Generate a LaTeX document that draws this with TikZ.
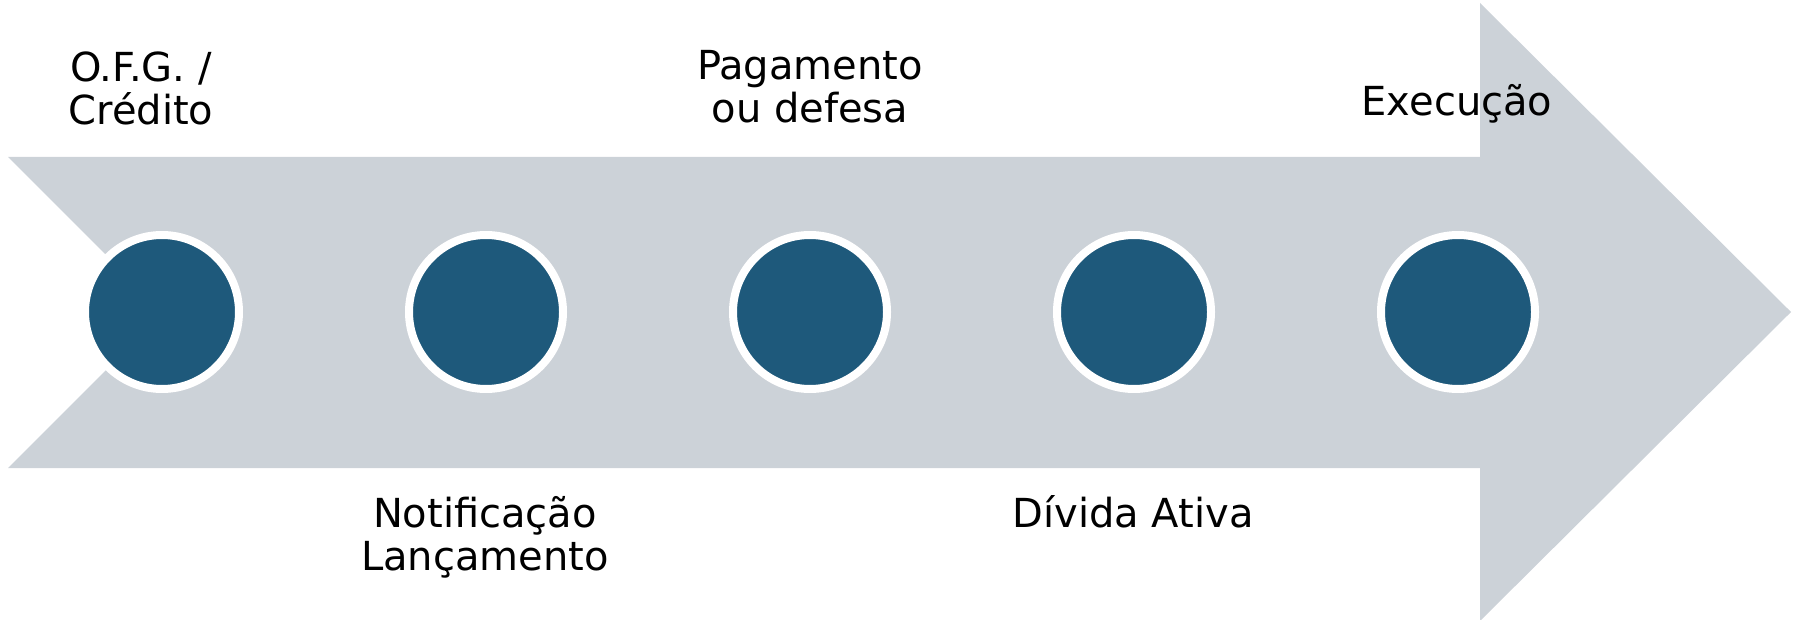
\documentclass[tikz,border=0pt]{standalone}
\usepackage{fontspec}
\setmainfont{DejaVu Sans}
\definecolor{arrowgray}{RGB}{204,210,216}
\definecolor{dotblue}{RGB}{30,89,123}
\begin{document}
\begin{tikzpicture}[x=1pt,y=-1pt,
  dot/.style={circle,fill=dotblue,draw=white,line width=8pt,minimum size=154pt,inner sep=0pt},
  lbl/.style={font=\fontsize{40}{43}\selectfont,align=center,inner sep=0pt,anchor=base,text=black}]
\useasboundingbox (0,0) rectangle (1798,620);
\fill[arrowgray] (8,157) -- (1480,157) -- (1480,3) -- (1791,312) -- (1480,621) -- (1480,468) -- (8,468) -- (163.5,312.5) -- cycle;
\node[dot] (c1) at (162,312) {};
\node[dot] (c2) at (486,312) {};
\node[dot] (c3) at (810,312) {};
\node[dot] (c4) at (1134,312) {};
\node[dot] (c5) at (1458,312) {};
\node[lbl] (t1) at (141,125) {O.F.G. /\\Crédito};
\node[lbl] (t2) at (485,570) {Notificação\\Lançamento};
\node[lbl] (t3) at (810,123) {Pagamento\\ou defesa};
\node[lbl] (t4) at (1133,527) {Dívida Ativa};
\node[lbl] (t5) at (1457,116) {Execução};
\end{tikzpicture}
\end{document}
